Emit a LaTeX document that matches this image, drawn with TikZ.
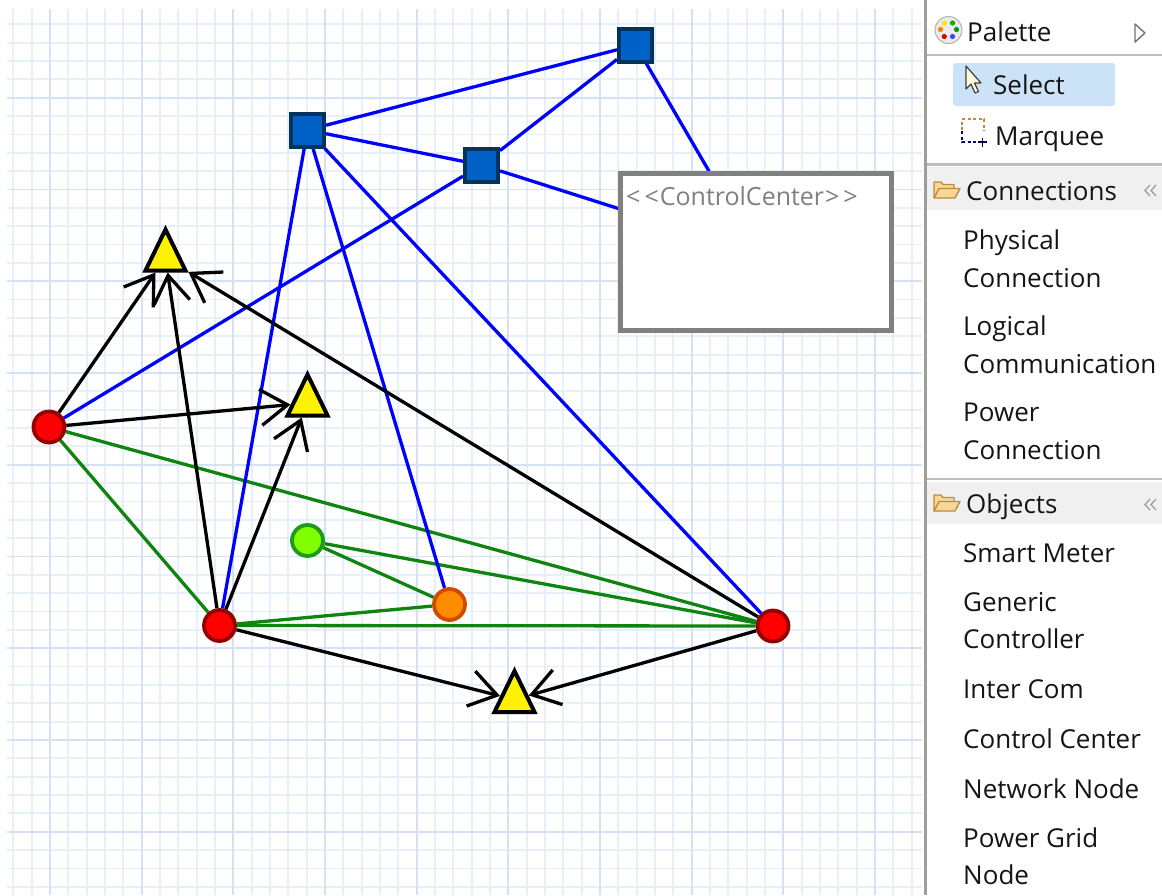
\documentclass[tikz,border=0pt]{standalone}
\usepackage{fontspec}
\setmainfont{Open Sans}
\usetikzlibrary{arrows.meta,shapes.geometric}

\pgfdeclarelayer{paper}
\pgfdeclarelayer{gridlayer}
\pgfdeclarelayer{edgelayer}
\pgfsetlayers{paper,gridlayer,edgelayer,main}

\definecolor{gridminor}{HTML}{E7EFF9}
\definecolor{gridmajor}{HTML}{D4E2F4}
\definecolor{netfill}{HTML}{0062C6}
\definecolor{netdraw}{HTML}{00345F}
\definecolor{pgred}{HTML}{FF0000}
\definecolor{pgredd}{HTML}{950000}
\definecolor{lgreen}{HTML}{80FF00}
\definecolor{lgreend}{HTML}{1C9B1C}
\definecolor{orng}{HTML}{FF8C00}
\definecolor{orngd}{HTML}{D04A00}
\definecolor{logicblue}{HTML}{0000FF}
\definecolor{powergreen}{HTML}{0F850F}
\definecolor{ccgray}{HTML}{808080}
\definecolor{paltext}{HTML}{151515}
\definecolor{headerbg}{HTML}{F0F0F0}
\definecolor{sepgray}{HTML}{BDBDBD}
\definecolor{selectbg}{HTML}{CCE2F7}
\definecolor{folderfill}{HTML}{F6D894}
\definecolor{folderdraw}{HTML}{C08A3E}

\begin{document}
\begin{tikzpicture}[x=1pt,y=-1pt,
  netnode/.style={rectangle, draw=netdraw, fill=netfill, line width=4pt,
    minimum size=33pt, inner sep=0pt},
  gridnode/.style={circle, draw=pgredd, fill=pgred, line width=3.8pt,
    minimum size=31pt, inner sep=0pt},
  commnode/.style={circle, draw=lgreend, fill=lgreen, line width=3.8pt,
    minimum size=31pt, inner sep=0pt},
  ctrlnode/.style={circle, draw=orngd, fill=orng, line width=3.8pt,
    minimum size=31pt, inner sep=0pt},
  meter/.style={isosceles triangle, shape border rotate=90,
    isosceles triangle stretches, draw=black, fill=yellow,
    line width=4pt, minimum width=40pt, minimum height=41pt, inner sep=0pt},
  ccbox/.style={rectangle, draw=ccgray, fill=white, line width=4.5pt,
    minimum width=271pt, minimum height=157pt, inner sep=0pt},
  cclabel/.style={text=ccgray, font=\fontsize{25}{30}\selectfont, inner sep=0pt},
  logical/.style={draw=logicblue, line width=3.3pt},
  power/.style={draw=powergreen, line width=3.3pt},
  physical/.style={draw=black, line width=3.3pt,
    -{Straight Barb[length=27pt,width=36pt]}},
  paltxt/.style={text=paltext, font=\fontsize{26}{31}\selectfont,
    inner sep=0pt, anchor=base west},
  folder/.style={draw=folderdraw, fill=folderfill, line width=1.4pt, line join=round}
]
\useasboundingbox (0,0) rectangle (1162,895);
\begin{pgfonlayer}{paper}
  \fill[white] (0,0) rectangle (1162,895);
\end{pgfonlayer}

% ---- canvas grid ----
\begin{pgfonlayer}{gridlayer}
  \foreach \i in {0,...,49}
    \draw[gridminor, line width=1.8pt] ({13.33+18.333*\i},9) -- ({13.33+18.333*\i},895);
  \foreach \j in {0,...,47}
    \draw[gridminor, line width=1.8pt] (7,{24.3+18.35*\j}) -- (922,{24.3+18.35*\j});
  \foreach \k in {0,...,9}
    \draw[gridmajor, line width=1.8pt] ({50+91.667*\k},9) -- ({50+91.667*\k},895);
  \foreach \k in {0,...,8}
    \draw[gridmajor, line width=1.8pt] (7,{97.7+91.75*\k}) -- (922,{97.7+91.75*\k});
\end{pgfonlayer}

% ---- network nodes ----
\node[netnode] (S1) at (635.5,45) {};
\node[netnode] (S2) at (307.5,130) {};
\node[netnode] (S3) at (481.5,165) {};

% ---- control center ----
\node[ccbox] (CC) at (756,252) {};
\node[cclabel, anchor=base west] (ccname) at (626,205)
  {<\kern4pt<\kern1pt ControlCenter\kern1pt>\kern4pt>};

% ---- power grid nodes, controllers, meters ----
\node[gridnode] (R1) at (49,427) {};
\node[gridnode] (R2) at (219.5,625.5) {};
\node[gridnode] (R3) at (773,626) {};
\node[commnode] (G) at (307.5,540.5) {};
\node[ctrlnode] (O) at (449.5,604.5) {};
\node[meter] (T1) at (165.5,258) {};
\node[meter] (T2) at (307.5,403) {};
\node[meter] (T3) at (514.5,699.5) {};

% ---- connections ----
\begin{pgfonlayer}{edgelayer}
  % power connections
  \draw[power] (R1) -- (R2);
  \draw[power] (R1) -- (R3);
  \draw[power] (R2) -- (R3);
  \draw[power] (R2) -- (O);
  \draw[power] (G) -- (O);
  \draw[power] (G) -- (R3);
  % logical communication
  \draw[logical] (S2) -- (S1);
  \draw[logical] (S2) -- (S3);
  \draw[logical] (S3) -- (S1);
  \draw[logical] (S1) -- (CC);
  \draw[logical] (S3) -- (CC);
  \draw[logical] (S3) -- (R1);
  \draw[logical] (S2) -- (R2);
  \draw[logical] (S2) -- (O);
  \draw[logical] (S2) -- (R3);
  % physical connections
  \draw[physical] (R1) -- (T1);
  \draw[physical] (R2) -- (T1);
  \draw[physical] (R3) -- (T1);
  \draw[physical] (R1) -- (T2);
  \draw[physical] (R2) -- (T2);
  \draw[physical] (R2) -- (T3);
  \draw[physical] (R3) -- (T3);
\end{pgfonlayer}

% ---- palette panel ----
\fill[white] (926,0) rectangle (1162,895);
\fill[headerbg] (927,167) rectangle (1162,210);
\fill[headerbg] (927,482) rectangle (1162,524);
\draw[sepgray, line width=2.5pt] (927,55) -- (1162,55);
\draw[sepgray, line width=2.5pt] (927,164.5) -- (1162,164.5);
\draw[sepgray, line width=2.5pt] (927,479) -- (1162,479);
\draw[draw=black!38, line width=3pt] (925.5,0) -- (925.5,895);

% palette title row
\fill[black!8] (948.5,30) circle (13.5);
\draw[black!30, line width=1pt] (948.5,30) circle (13.5);
\fill[yellow!90!orange] (944.3,23) circle (2.6);
\fill[green!70!black] (952.5,23) circle (2.6);
\fill[orange] (940.5,29.5) circle (2.6);
\fill[green!60!black] (956.5,29.5) circle (2.6);
\fill[red!85!black] (944.3,36.5) circle (2.6);
\fill[blue!75!white] (952.5,36.5) circle (2.6);
\node[paltxt] (pal) at (967,41) {Palette};
\draw[black!55, line width=1.4pt, line join=round] (1135,24) -- (1145,33) -- (1135,42) -- cycle;

% tools
\fill[selectbg, rounded corners=3pt] (953,63) rectangle (1115,106);
\draw[fill=yellow!12, draw=black!75, line width=1.2pt, line join=round]
  (966,66) -- (966,89) -- (971,84) -- (975,93) -- (978.5,91.5) -- (974.5,83) -- (981,83) -- cycle;
\node[paltxt] (sel) at (993,94) {Select};
\draw[folderdraw, line width=1.6pt, dash pattern=on 3pt off 2.5pt] (962,130) -- (962,119) -- (984,119) -- (984,131);
\draw[blue!65!black, line width=1.6pt, dash pattern=on 3pt off 2.5pt] (962,131) -- (962,142) -- (977,142);
\draw[blue!30!black, line width=1.5pt] (978,142) -- (987,142) (982.5,137.5) -- (982.5,146.5);
\node[paltxt] (mar) at (995,145) {Marquee};

% connections drawer
\draw[folder] (934,198) -- (934,182) -- (941,182) -- (943,184.5) -- (954,184.5) -- (954,188);
\draw[folder] (934,198) -- (939,188.5) -- (960,188.5) -- (955,198) -- cycle;
\node[paltxt] (conh) at (966,200) {Connections};
\draw[black!40, line width=1.2pt] (1150,185) -- (1145,190.5) -- (1150,196) (1156,185) -- (1151,190.5) -- (1156,196);
\node[paltxt] (phys1) at (963,249) {Physical};
\node[paltxt] (phys2) at (963,287) {Connection};
\node[paltxt] (log1) at (963,335) {Logical};
\node[paltxt] (log2) at (963,373) {Communication};
\node[paltxt] (pow1) at (963,421) {Power};
\node[paltxt] (pow2) at (963,459) {Connection};

% objects drawer
\draw[folder] (934,511) -- (934,495) -- (941,495) -- (943,497.5) -- (954,497.5) -- (954,501);
\draw[folder] (934,511) -- (939,501.5) -- (960,501.5) -- (955,511) -- cycle;
\node[paltxt] (objh) at (966,513) {Objects};
\draw[black!40, line width=1.2pt] (1150,499) -- (1145,504.5) -- (1150,510) (1156,499) -- (1151,504.5) -- (1156,510);
\node[paltxt] (o1) at (963,562) {Smart Meter};
\node[paltxt] (o2a) at (963,611) {Generic};
\node[paltxt] (o2b) at (963,648) {Controller};
\node[paltxt] (o3) at (963,698) {Inter Com};
\node[paltxt] (o4) at (963,748) {Control Center};
\node[paltxt] (o5) at (963,798) {Network Node};
\node[paltxt] (o6a) at (963,847) {Power Grid};
\node[paltxt] (o6b) at (963,884) {Node};
\end{tikzpicture}
\end{document}
